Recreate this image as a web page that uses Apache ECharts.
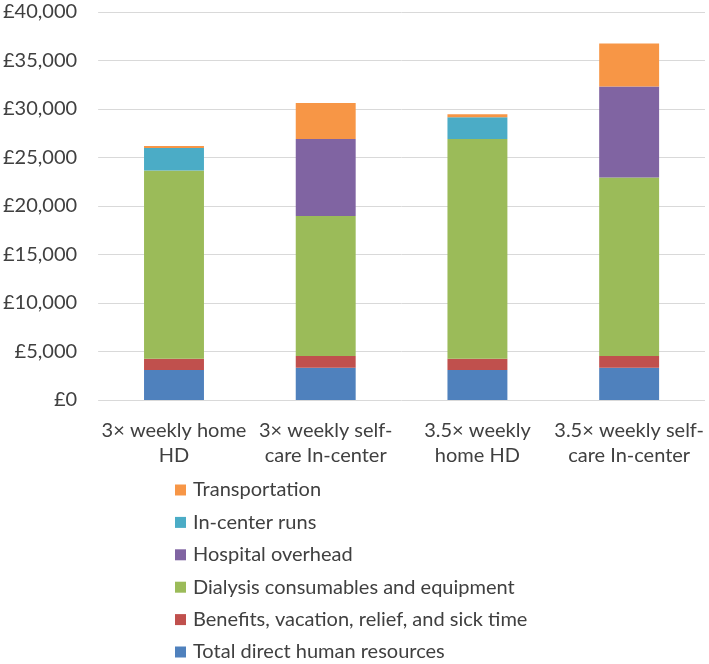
<!DOCTYPE html>
<html><head><meta charset="utf-8">
<script src="https://cdn.jsdelivr.net/npm/echarts@6/dist/echarts.min.js"></script>
<style>html,body{margin:0;padding:0;background:#fff}#c{width:709px;height:664px}</style>
</head><body><div id="c"></div>
<script>
const categories = ["3× weekly home\nHD", "3× weekly self-\ncare In-center", "3.5× weekly\nhome HD", "3.5× weekly self-\ncare In-center"];
const seriesNames = ["Total direct human resources", "Benefits, vacation, relief, and sick time", "Dialysis consumables and equipment", "Hospital overhead", "In-center runs", "Transportation"];
const humanResources = [3100, 3330, 3100, 3330];
const benefits = [1150, 1200, 1150, 1200];
const consumables = [19400, 14440, 22650, 18420];
const hospitalOverhead = [0, 7930, 0, 9380];
const inCenterRuns = [2330, 0, 2240, 0];
const transportation = [200, 3720, 310, 4430];
const yTicks = [0, 5000, 10000, 15000, 20000, 25000, 30000, 35000, 40000];
const colors = ["#4F81BD", "#C0504D", "#9BBB59", "#8064A2", "#4BACC6", "#F79646"];
const values = [humanResources, benefits, consumables, hospitalOverhead, inCenterRuns, transportation];

const font = "Lato";
const chart = echarts.init(document.getElementById('c'));
chart.setOption({
  animation: false,
  textStyle: {fontFamily: font},
  grid: {left: 95, right: 4, top: 12, bottom: 264},
  legend: {
    orient: 'vertical', left: 175, top: 480, itemGap: 12.4, padding: 0,
    itemWidth: 11, itemHeight: 11, icon: 'rect',
    data: seriesNames.slice().reverse(),
    textStyle: {fontFamily: font, fontSize: 20, color: '#404040', padding: [0,0,0,2]}
  },
  xAxis: {
    type: 'category', data: categories,
    axisLine: {show: false}, axisTick: {show: false},
    axisLabel: {fontFamily: font, fontSize: 20, color: '#404040', lineHeight: 25, margin: 18, interval: 0}
  },
  yAxis: {
    type: 'value', min: yTicks[0], max: yTicks[yTicks.length-1], interval: 5000,
    axisLine: {show: false}, axisTick: {show: false},
    splitLine: {lineStyle: {color: '#d9d9d9', width: 1}},
    axisLabel: {fontFamily: font, fontSize: 20, color: '#404040', margin: 21,
      formatter: v => '£' + v.toLocaleString('en-US')}
  },
  series: seriesNames.map((n, i) => ({
    name: n, type: 'bar', stack: 'total', data: values[i], barWidth: '39.5%',
    itemStyle: {color: colors[i]}
  }))
});
</script></body></html>
